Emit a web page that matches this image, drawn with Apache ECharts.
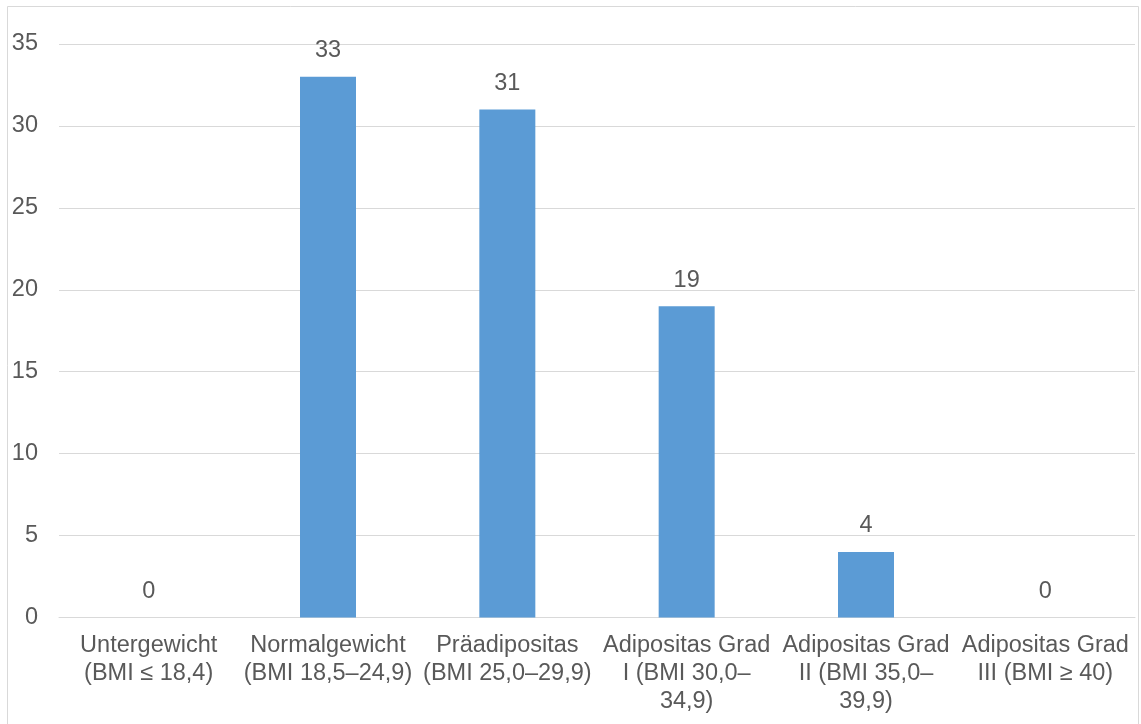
<!DOCTYPE html>
<html>
<head>
<meta charset="utf-8">
<script src="https://cdn.jsdelivr.net/npm/echarts@6/dist/echarts.min.js"></script>
<style>
  html, body { margin: 0; padding: 0; background: #ffffff; }
  #chart { width: 1141px; height: 724px; }
</style>
</head>
<body>
<div id="chart"></div>
<script>
// BMI classes (line breaks as they wrap under each bar)
const categories = [
  'Untergewicht\n(BMI ≤ 18,4)',
  'Normalgewicht\n(BMI 18,5–24,9)',
  'Präadipositas\n(BMI 25,0–29,9)',
  'Adipositas Grad\nI (BMI 30,0–\n34,9)',
  'Adipositas Grad\nII (BMI 35,0–\n39,9)',
  'Adipositas Grad\nIII (BMI ≥ 40)'
];
// Number of persons per class
const counts = [0, 33, 31, 19, 4, 0];
// Value axis range
const yMin = 0;
const yMax = 35;
const yStep = 5;

const textColor = '#595959';
const gridColor = '#d9d9d9';
const fontFamily = '"Liberation Sans", Arial, sans-serif';

const chart = echarts.init(document.getElementById('chart'), null, { renderer: 'canvas' });

chart.setOption({
  animation: false,
  backgroundColor: '#ffffff',
  textStyle: { fontFamily: fontFamily },
  graphic: [{
    type: 'rect',
    shape: { x: 7.5, y: 6.5, width: 1131, height: 800 },
    style: { fill: 'none', stroke: gridColor, lineWidth: 1 },
    silent: true,
    z: 0
  }],
  grid: { left: 59, right: 6, top: 44, bottom: 106.5, containLabel: false },
  xAxis: {
    type: 'category',
    data: categories,
    axisTick: { show: false },
    axisLine: { show: true, lineStyle: { color: gridColor, width: 1 } },
    axisLabel: {
      color: textColor,
      fontSize: 23.5,
      lineHeight: 28,
      margin: 14,
      interval: 0,
      align: 'center',
      fontFamily: fontFamily
    }
  },
  yAxis: {
    type: 'value',
    min: yMin,
    max: yMax,
    interval: yStep,
    axisLine: { show: false },
    axisTick: { show: false },
    splitLine: { show: true, lineStyle: { color: gridColor, width: 1 } },
    axisLabel: {
      color: textColor,
      fontSize: 23.5,
      margin: 21,
      fontFamily: fontFamily
    }
  },
  series: [{
    type: 'bar',
    data: counts,
    barWidth: 56,
    itemStyle: { color: '#5b9bd5' },
    label: {
      show: true,
      position: 'top',
      distance: 14,
      color: textColor,
      fontSize: 23.5,
      lineHeight: 24,
      fontFamily: fontFamily
    }
  }]
});
</script>
</body>
</html>
